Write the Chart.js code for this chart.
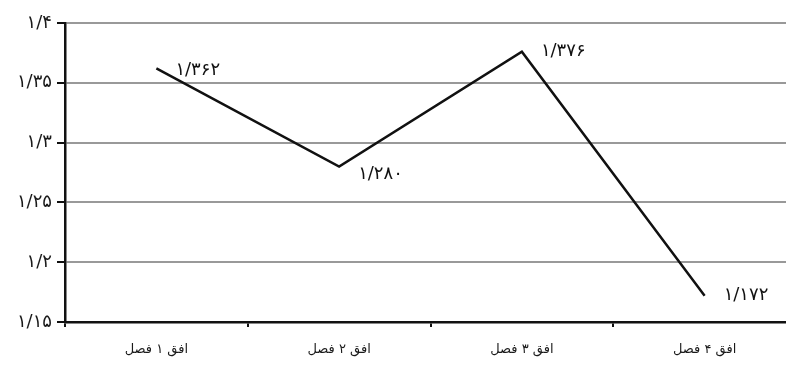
<!DOCTYPE html>
<html>
<head>
<meta charset="utf-8">
<script src="https://cdn.jsdelivr.net/npm/chart.js@4"></script>
<style>
  html, body { margin: 0; padding: 0; background: #fff; overflow: hidden; }
  #wrap { width: 800px; height: 365px; }
</style>
</head>
<body>
<div id="wrap"><canvas id="chart"></canvas></div>
<script>
// data
const categories = ['افق ۱ فصل', 'افق ۲ فصل', 'افق ۳ فصل', 'افق ۴ فصل'];
const values = [1.362, 1.280, 1.376, 1.172];
const pointLabels = ['۱/۳۶۲', '۱/۲۸۰', '۱/۳۷۶', '۱/۱۷۲'];
const yTicks = [1.15, 1.2, 1.25, 1.3, 1.35, 1.4];
const yTickLabels = ['۱/۱۵', '۱/۲', '۱/۲۵', '۱/۳', '۱/۳۵', '۱/۴'];

const FONT = '"DejaVu Sans", sans-serif';

// value labels next to each point
const valueLabels = {
    id: 'valueLabels',
    afterDatasetsDraw(chart) {
        const ctx = chart.ctx;
        const meta = chart.getDatasetMeta(0);
        const dy = [2, 8, 0, 0];
        ctx.save();
        ctx.font = '18px ' + FONT;
        ctx.fillStyle = '#111';
        ctx.textAlign = 'left';
        ctx.textBaseline = 'middle';
        meta.data.forEach((pt, i) => {
            ctx.fillText(pointLabels[i], pt.x + 19, pt.y + dy[i]);
        });
        ctx.restore();
    }
};

new Chart(document.getElementById('chart'), {
    type: 'line',
    data: {
        labels: categories,
        datasets: [{
            data: values,
            borderColor: '#111',
            borderWidth: 2.5,
            pointRadius: 0,
            tension: 0,
            fill: false
        }]
    },
    options: {
        responsive: true,
        maintainAspectRatio: false,
        animation: false,
        layout: { padding: { top: 23, right: 4, left: 0, bottom: 0 } },
        plugins: {
            legend: { display: false },
            tooltip: { enabled: false }
        },
        scales: {
            x: {
                offset: true,
                grid: {
                    offset: true,
                    drawOnChartArea: false,
                    drawTicks: true,
                    tickLength: 5,
                    tickColor: '#111',
                    lineWidth: 2
                },
                border: { color: '#111', width: 2.5 },
                ticks: {
                    color: '#1a1a1a',
                    padding: 15,
                    font: { family: FONT, size: 13 },
                    maxRotation: 0
                },
                afterFit(scale) { scale.height = 43; }
            },
            y: {
                min: 1.15,
                max: 1.4,
                afterBuildTicks(scale) {
                    scale.ticks = yTicks.map(v => ({ value: v }));
                },
                grid: {
                    color: '#999',
                    lineWidth: 2,
                    drawTicks: true,
                    tickLength: 8,
                    tickColor: '#111'
                },
                border: { color: '#111', width: 2.5 },
                ticks: {
                    color: '#1a1a1a',
                    padding: 5,
                    font: { family: FONT, size: 18 },
                    callback(value, index) { return yTickLabels[index]; }
                },
                afterFit(scale) { scale.width = 65; }
            }
        }
    },
    plugins: [valueLabels]
});
</script>
</body>
</html>
